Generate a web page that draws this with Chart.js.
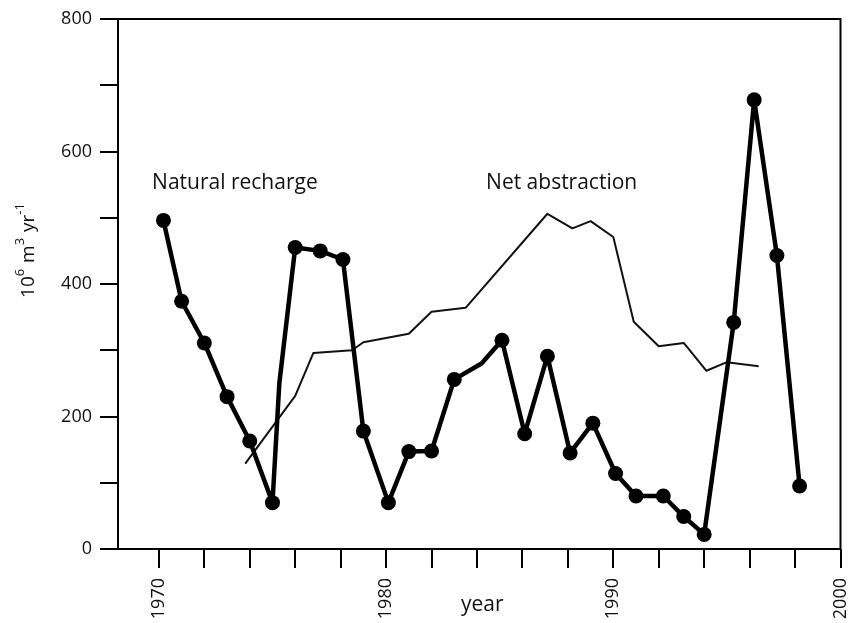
<!DOCTYPE html>
<html>
<head>
<meta charset="utf-8">
<script src="https://cdn.jsdelivr.net/npm/chart.js@4"></script>
<style>
  html, body { margin: 0; padding: 0; background: #fff; }
  #wrap { width: 848px; height: 623px; }
</style>
</head>
<body>
<div id="wrap"><canvas id="myChart"></canvas></div>
<script>
// natural recharge (thick line with dots)
const rechargeYears = [1970.2, 1971.0, 1972.0, 1973.0, 1974.0, 1975.0, 1975.3, 1976.0, 1977.1, 1978.1,
    1979.0, 1980.1, 1981.0, 1982.0, 1983.0, 1984.2, 1985.1, 1986.1, 1987.1, 1988.1,
    1989.1, 1990.1, 1991.0, 1992.2, 1993.1, 1994.0, 1995.3, 1996.2, 1997.2, 1998.2]
const rechargeValues = [496, 374, 311, 230, 163, 70, 250, 455, 450, 437,
    178, 70, 147, 148, 256, 280, 315, 174, 291, 145,
    190, 114, 80, 80, 49, 22, 342, 678, 443, 95]
// kinks in the line that have no dot
const unmarkedYears = [1975.3, 1984.2]

// net abstraction (thin line)
const abstractionYears = [1973.8, 1976.0, 1976.8, 1978.5, 1979.0, 1981.0, 1982.0, 1983.5, 1987.1,
    1988.2, 1989.0, 1990.0, 1990.9, 1992.0, 1993.1, 1994.1, 1995.0, 1996.4]
const abstractionValues = [129, 231, 296, 300, 312, 325, 358, 364, 506,
    484, 495, 471, 343, 306, 311, 269, 282, 276]

// ticks
const xTicks = [1970, 1972, 1974, 1976, 1978, 1980, 1982, 1984, 1986, 1988, 1990, 1992, 1994, 1996, 1998, 2000]
const xLabels = [1970, 1980, 1990, 2000]
const yTicks = [0, 100, 200, 300, 400, 500, 600, 700, 800]
const yLabels = [0, 200, 400, 600, 800]

const FONT = "'Open Sans', 'DejaVu Sans', sans-serif"

function toPoints(xs, ys) {
    return xs.map((x, i) => ({ x: x, y: ys[i] }))
}

// box around plot + free text
const extras = {
    id: 'extras',
    afterDraw(chart) {
        const ctx = chart.ctx
        const a = chart.chartArea
        const xs = chart.scales.x
        const ys = chart.scales.y
        ctx.save()
        ctx.strokeStyle = '#000'
        ctx.lineWidth = 2
        ctx.strokeRect(a.left, a.top, a.right - a.left, a.bottom - a.top)

        ctx.fillStyle = '#111'
        ctx.textBaseline = 'middle'
        ctx.textAlign = 'left'
        ctx.font = '21px ' + FONT
        ctx.fillText('Natural recharge', xs.getPixelForValue(1969.7), ys.getPixelForValue(552))
        ctx.fillText('Net abstraction', xs.getPixelForValue(1984.4), ys.getPixelForValue(552))

        // x title
        ctx.textAlign = 'center'
        ctx.font = '21px ' + FONT
        ctx.fillText('year', (a.left + a.right) / 2 + 3, 605)

        // y title with superscripts
        ctx.translate(29, 250)
        ctx.rotate(-Math.PI / 2)
        const parts = [['10', 0], ['6', 1], [' m', 0], ['3', 1], [' yr', 0], ['-1', 1]]
        let w = 0
        parts.forEach(p => {
            ctx.font = (p[1] ? '13px ' : '19px ') + FONT
            w += ctx.measureText(p[0]).width + (p[1] ? 1 : 0)
        })
        let x = -w / 2
        ctx.textAlign = 'left'
        parts.forEach(p => {
            ctx.font = (p[1] ? '13px ' : '19px ') + FONT
            ctx.fillText(p[0], x, p[1] ? -9 : 0)
            x += ctx.measureText(p[0]).width + (p[1] ? 1 : 0)
        })
        ctx.restore()
    }
}

new Chart('myChart', {
    type: 'line',
    data: {
        datasets: [{
            label: 'Natural recharge',
            data: toPoints(rechargeYears, rechargeValues),
            borderColor: '#000',
            backgroundColor: '#000',
            borderWidth: 4.5,
            borderJoinStyle: 'round',
            pointRadius: ctx => unmarkedYears.includes(rechargeYears[ctx.dataIndex]) ? 0 : 7.5,
            pointBorderWidth: 0,
            tension: 0
        }, {
            label: 'Net abstraction',
            data: toPoints(abstractionYears, abstractionValues),
            borderColor: '#111',
            borderWidth: 2,
            borderJoinStyle: 'round',
            pointRadius: 0,
            tension: 0
        }]
    },
    options: {
        responsive: true,
        maintainAspectRatio: false,
        animation: false,
        layout: { padding: { top: 19, right: 7, left: 0, bottom: 0 } },
        plugins: {
            legend: { display: false },
            tooltip: { enabled: false }
        },
        scales: {
            x: {
                type: 'linear',
                min: 1968.2,
                max: 2000,
                afterBuildTicks: s => { s.ticks = xTicks.map(v => ({ value: v })) },
                afterFit: s => { s.height = 74; s.paddingLeft = 0; s.paddingRight = 0 },
                grid: { drawOnChartArea: false, drawTicks: true, tickLength: 19, color: '#000', lineWidth: 2 },
                border: { display: false },
                ticks: {
                    autoSkip: false,
                    minRotation: 90,
                    maxRotation: 90,
                    padding: 10,
                    color: '#111',
                    font: { family: FONT, size: 18 },
                    callback: v => xLabels.includes(v) ? String(v) : ''
                }
            },
            y: {
                min: 0,
                max: 800,
                afterBuildTicks: s => { s.ticks = yTicks.map(v => ({ value: v })) },
                afterFit: s => { s.width = 118; s.paddingTop = 0; s.paddingBottom = 0 },
                grid: { drawOnChartArea: false, drawTicks: true, tickLength: 18, color: '#000', lineWidth: 2 },
                border: { display: false },
                ticks: {
                    padding: 8,
                    color: '#111',
                    font: { family: FONT, size: 18 },
                    callback: v => yLabels.includes(v) ? String(v) : ''
                }
            }
        }
    },
    plugins: [extras]
})
</script>
</body>
</html>
